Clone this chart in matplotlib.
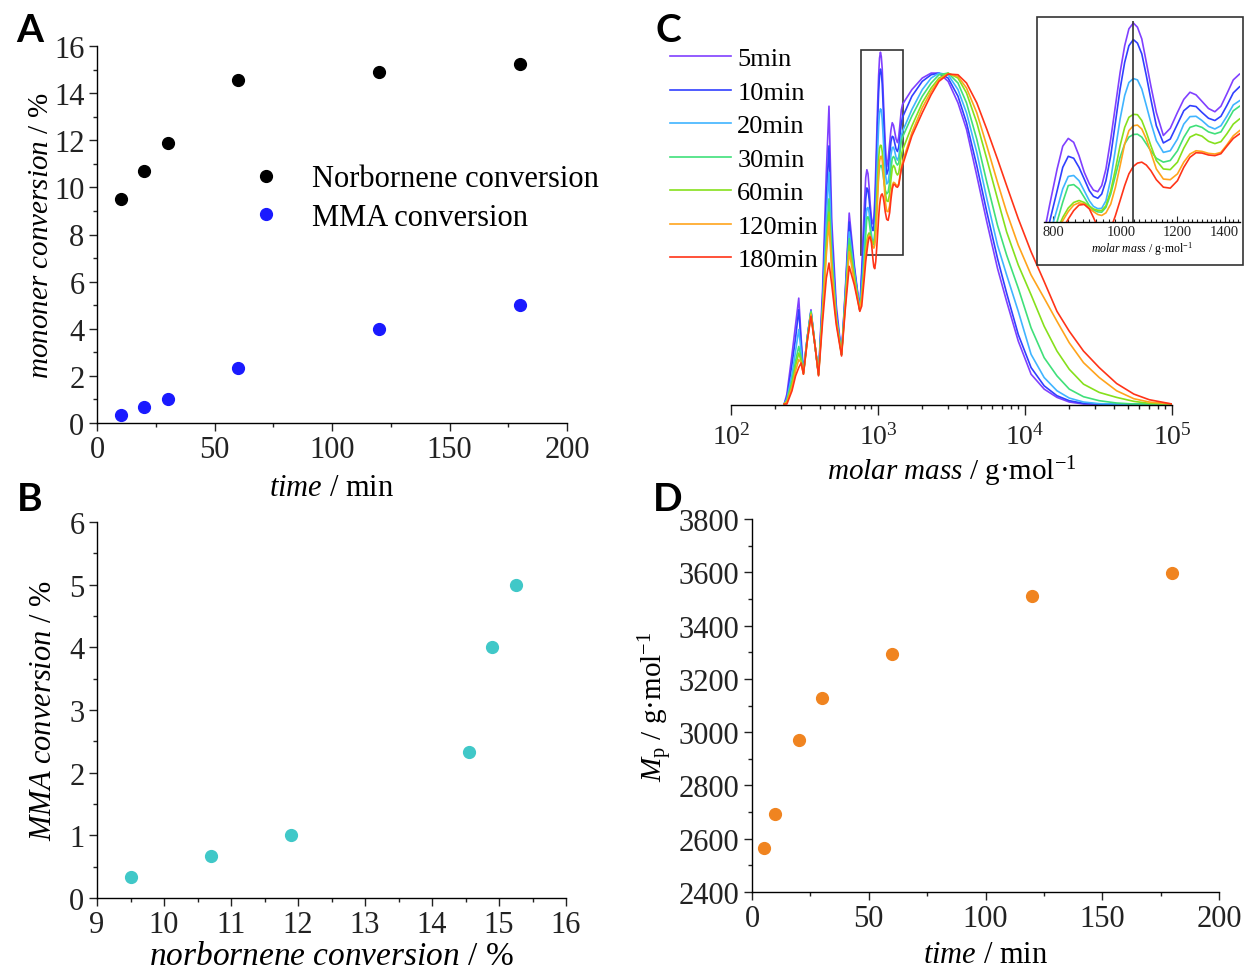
import matplotlib.pyplot as plt
from matplotlib.ticker import MultipleLocator, FixedLocator, NullFormatter, FixedFormatter
from matplotlib.patches import Rectangle

# ---- panel A / D : kinetics ----
time_a = [10, 20, 30, 60, 120, 180]
norbornene_conv = [9.5, 10.7, 11.9, 14.55, 14.9, 15.25]
mma_conv = [0.33, 0.67, 1.0, 2.33, 4.0, 5.0]

time_d = [5, 10, 20, 30, 60, 120, 180]
mp_values = [2565, 2692, 2970, 3128, 3295, 3510, 3597]

# ---- panel C : GPC traces (normalised) ----
molar_mass = [230, 240, 260, 275, 289, 300, 311, 330, 350, 372, 394, 420, 445, 464, 485, 520, 565, 600, 637, 690, 752,
              775, 790, 810, 825, 840, 855, 870, 885, 900, 912, 925, 937, 950, 965, 980, 995, 1010, 1024, 1039, 1053,
              1068, 1084, 1100, 1120, 1146, 1172, 1200, 1225, 1250, 1275, 1300, 1328, 1356, 1383, 1410, 1440,
              1470, 1700, 2000, 2300, 2600, 3000, 3500, 4000, 4700, 5500, 6500, 7500, 9000, 11000, 13500, 16500,
              20000, 25000, 32000, 42000, 55000, 70000, 100000]

gpc_5min = [0, 0.03, 0.15, 0.24, 0.32, 0.20, 0.095, 0.20, 0.285, 0.18, 0.09, 0.35, 0.70, 0.90, 0.55, 0.30, 0.15, 0.35, 0.577, 0.42, 0.285,
            0.409, 0.501, 0.614, 0.684, 0.708, 0.696, 0.655, 0.604, 0.568, 0.549, 0.544, 0.563, 0.614, 0.706, 0.809, 0.911,
            0.993, 1.045, 1.063, 1.05, 1.014, 0.942, 0.87, 0.788, 0.717, 0.739, 0.788, 0.828, 0.85, 0.842, 0.822, 0.80,
            0.79, 0.807, 0.845, 0.888,
            0.906, 0.95, 0.985, 1.0, 1.0, 0.975, 0.91, 0.83, 0.69, 0.55, 0.41, 0.31, 0.19, 0.09, 0.045, 0.02,
            0.006, 0, 0, 0, 0, 0, 0]
gpc_10min = [0, 0.02, 0.12, 0.20, 0.285, 0.18, 0.094, 0.20, 0.28, 0.18, 0.09, 0.32, 0.62, 0.78, 0.50, 0.28, 0.15, 0.34, 0.55, 0.41, 0.285,
             0.389, 0.45, 0.547, 0.619, 0.653, 0.647, 0.619, 0.583, 0.547, 0.53, 0.524, 0.537, 0.578, 0.655, 0.758, 0.86,
             0.942, 0.993, 1.012, 1.001, 0.968, 0.901, 0.829, 0.747, 0.694, 0.706, 0.752, 0.793, 0.809, 0.806, 0.788, 0.77,
             0.763, 0.776, 0.809, 0.848,
             0.867, 0.93, 0.975, 0.995, 1.0, 0.985, 0.93, 0.85, 0.72, 0.58, 0.44, 0.335, 0.21, 0.11, 0.055, 0.025,
             0.01, 0.002, 0, 0, 0, 0, 0]
gpc_20min = [0, 0.015, 0.09, 0.16, 0.225, 0.16, 0.094, 0.20, 0.28, 0.18, 0.09, 0.30, 0.56, 0.70, 0.47, 0.27, 0.15, 0.33, 0.52, 0.40, 0.285,
             0.358, 0.409, 0.491, 0.553, 0.591, 0.594, 0.578, 0.547, 0.516, 0.499, 0.492, 0.493, 0.516, 0.583, 0.675, 0.768,
             0.84, 0.88, 0.892, 0.888, 0.86, 0.809, 0.757, 0.701, 0.665, 0.67, 0.706, 0.752, 0.775, 0.776, 0.763, 0.745,
             0.737, 0.747, 0.776, 0.811,
             0.824, 0.89, 0.95, 0.985, 1.0, 0.995, 0.95, 0.88, 0.76, 0.62, 0.48, 0.39, 0.28, 0.15, 0.08, 0.04,
             0.018, 0.006, 0.001, 0, 0, 0, 0]
gpc_30min = [0, 0.01, 0.07, 0.13, 0.174, 0.14, 0.094, 0.20, 0.28, 0.18, 0.09, 0.29, 0.50, 0.62, 0.44, 0.26, 0.15, 0.32, 0.50, 0.39, 0.285,
             0.327, 0.378, 0.452, 0.512, 0.563, 0.566, 0.553, 0.527, 0.501, 0.488, 0.482, 0.481, 0.496, 0.537, 0.594, 0.65,
             0.691, 0.712, 0.72, 0.721, 0.712, 0.691, 0.67, 0.647, 0.635, 0.64, 0.67, 0.711, 0.742, 0.748, 0.742, 0.728,
             0.722, 0.728, 0.758, 0.793,
             0.807, 0.87, 0.93, 0.97, 0.995, 1.0, 0.97, 0.91, 0.80, 0.67, 0.54, 0.45, 0.35, 0.23, 0.14, 0.085,
             0.045, 0.022, 0.01, 0.003, 0, 0, 0]
gpc_60min = [0, 0.008, 0.06, 0.115, 0.154, 0.13, 0.092, 0.19, 0.275, 0.18, 0.088, 0.28, 0.47, 0.58, 0.42, 0.255, 0.15, 0.31, 0.48, 0.38, 0.283,
             0.327, 0.368, 0.424, 0.465, 0.494, 0.511, 0.517, 0.511, 0.499, 0.491, 0.487, 0.486, 0.501, 0.547, 0.614, 0.686,
             0.742, 0.773, 0.782, 0.781, 0.763, 0.727, 0.686, 0.64, 0.614, 0.612, 0.635, 0.678, 0.712, 0.721, 0.715, 0.699,
             0.692, 0.698, 0.722, 0.752,
             0.768, 0.84, 0.91, 0.955, 0.985, 1.0, 0.985, 0.94, 0.85, 0.74, 0.62, 0.52, 0.42, 0.33, 0.235, 0.16,
             0.105, 0.06, 0.035, 0.02, 0.008, 0.002, 0]
gpc_120min = [0, 0.005, 0.05, 0.10, 0.134, 0.125, 0.09, 0.19, 0.27, 0.18, 0.087, 0.27, 0.45, 0.55, 0.40, 0.25, 0.148, 0.30, 0.46, 0.37, 0.282,
              0.317, 0.358, 0.414, 0.455, 0.483, 0.503, 0.51, 0.506, 0.493, 0.483, 0.474, 0.471, 0.479, 0.506, 0.558, 0.624,
              0.691, 0.732, 0.747, 0.749, 0.737, 0.706, 0.665, 0.614, 0.583, 0.581, 0.599, 0.635, 0.66, 0.67, 0.668, 0.662,
              0.66, 0.665, 0.688, 0.716,
              0.732, 0.82, 0.895, 0.945, 0.98, 0.998, 0.99, 0.955, 0.88, 0.78, 0.67, 0.58, 0.48, 0.39, 0.32, 0.25,
              0.185, 0.125, 0.08, 0.04, 0.016, 0.006, 0]
gpc_180min = [0, 0, 0.04, 0.085, 0.11, 0.124, 0.09, 0.19, 0.265, 0.18, 0.085, 0.25, 0.38, 0.426, 0.36, 0.24, 0.145, 0.29, 0.416, 0.36, 0.28,
              0.296, 0.337, 0.389, 0.43, 0.46, 0.486, 0.503, 0.505, 0.491, 0.465, 0.435, 0.414, 0.409, 0.43, 0.471, 0.517,
              0.563, 0.599, 0.622, 0.632, 0.635, 0.626, 0.609, 0.581, 0.558, 0.555, 0.578, 0.619, 0.65, 0.664, 0.663, 0.657,
              0.655, 0.661, 0.684, 0.708,
              0.722, 0.81, 0.88, 0.935, 0.975, 0.997, 0.995, 0.97, 0.91, 0.83, 0.74, 0.66, 0.56, 0.46, 0.37, 0.28,
              0.22, 0.16, 0.11, 0.062, 0.03, 0.013, 0]

gpc_labels = ['5min', '10min', '20min', '30min', '60min', '120min', '180min']
gpc_colors = ['#8040ff', '#3040ff', '#40b4ff', '#40e07a', '#86e01c', '#ffa41c', '#ff3418']
gpc_traces = [gpc_5min, gpc_10min, gpc_20min, gpc_30min, gpc_60min, gpc_120min, gpc_180min]

plt.rcParams['font.family'] = 'Liberation Serif'
plt.rcParams['mathtext.fontset'] = 'custom'
plt.rcParams['mathtext.rm'] = 'Liberation Serif'
plt.rcParams['mathtext.it'] = 'Liberation Serif:italic'
plt.rcParams['axes.linewidth'] = 1.0

W, H = 1248, 970
fig = plt.figure(figsize=(W / 100, H / 100), dpi=100)


def px_axes(left, top, right, bottom):
    return fig.add_axes([left / W, 1 - bottom / H, (right - left) / W, (bottom - top) / H])


def style(ax):
    ax.spines['top'].set_visible(False)
    ax.spines['right'].set_visible(False)
    ax.tick_params(which='both', direction='out', labelsize=22, width=1, colors='#222222')
    ax.tick_params(which='major', length=6, pad=3)
    ax.tick_params(which='minor', length=3)


# A
ax_a = px_axes(97, 47, 567, 424)
ax_a.plot(time_a, norbornene_conv, 'o', color='black', ms=8.5, label='Norbornene conversion')
ax_a.plot(time_a, mma_conv, 'o', color='#1a1aff', ms=8.5, label='MMA conversion')
ax_a.set_xlim(0, 200)
ax_a.set_ylim(0, 16)
ax_a.xaxis.set_major_locator(MultipleLocator(50))
ax_a.xaxis.set_minor_locator(MultipleLocator(25))
ax_a.yaxis.set_major_locator(MultipleLocator(2))
ax_a.yaxis.set_minor_locator(MultipleLocator(1))
style(ax_a)
ax_a.set_xlabel(r'$\mathit{time}$ / min', fontsize=22, labelpad=6)
ax_a.set_ylabel(r'$\mathit{mononer\ conversion}$ / %', fontsize=21, labelpad=0)
ax_a.legend(loc='center left', bbox_to_anchor=(251 / W, 1 - 199 / H), bbox_transform=fig.transFigure,
            frameon=False, fontsize=22, handlelength=1.0, handletextpad=1.0, labelspacing=0.3,
            borderpad=0, borderaxespad=0)

# B
ax_b = px_axes(97, 523, 566, 899)
ax_b.plot(norbornene_conv, mma_conv, 'o', color='#40c8c8', ms=8.5)
ax_b.set_xlim(9, 16)
ax_b.set_ylim(0, 6)
ax_b.xaxis.set_major_locator(MultipleLocator(1))
ax_b.xaxis.set_minor_locator(MultipleLocator(0.5))
ax_b.yaxis.set_major_locator(MultipleLocator(1))
ax_b.yaxis.set_minor_locator(MultipleLocator(0.5))
style(ax_b)
ax_b.set_xlabel(r'$\mathit{norbornene\ conversion}$ / %', fontsize=24, labelpad=1)
ax_b.set_ylabel(r'$\mathit{MMA\ conversion}$ / %', fontsize=22, labelpad=8)

# D
ax_d = px_axes(752, 520, 1219, 893)
ax_d.plot(time_d, mp_values, 'o', color='#f08420', ms=8.5)
ax_d.set_xlim(0, 200)
ax_d.set_ylim(2400, 3800)
ax_d.xaxis.set_major_locator(MultipleLocator(50))
ax_d.xaxis.set_minor_locator(MultipleLocator(25))
ax_d.yaxis.set_major_locator(MultipleLocator(200))
ax_d.yaxis.set_minor_locator(MultipleLocator(100))
style(ax_d)
ax_d.set_xlabel(r'$\mathit{time}$ / min', fontsize=22, labelpad=5)
ax_d.set_ylabel(r'$M_{\mathrm{p}}$ / g·mol$^{\mathrm{-1}}$', fontsize=21, labelpad=3)

# C
ax_c = px_axes(731, 40, 1172, 406)
for trace, col, lab in zip(gpc_traces, gpc_colors, gpc_labels):
    ax_c.plot(molar_mass, trace, color=col, lw=1.2, label=lab)
ax_c.set_xscale('log')
ax_c.set_xlim(100, 1e5)
ax_c.set_ylim(-0.003, 1.103)
for s in ['top', 'right', 'left']:
    ax_c.spines[s].set_visible(False)
ax_c.set_yticks([])
ax_c.tick_params(which='both', direction='out', labelsize=20, width=1, colors='#222222')
ax_c.tick_params(which='major', length=7, pad=6)
ax_c.tick_params(which='minor', length=3)
ax_c.set_xlabel(r'$\mathit{molar\ mass}$ / g·mol$^{\mathrm{-1}}$', fontsize=21, labelpad=3)
ax_c.add_patch(Rectangle((770, 0.45), 1470 - 770, 1.07 - 0.45, fill=False, ec='#333333', lw=1.2))
ax_c.legend(loc='center left', bbox_to_anchor=(670 / W, 1 - 160 / H), bbox_transform=fig.transFigure,
            frameon=False, fontsize=19, handlelength=2.3, handletextpad=0.25, labelspacing=0.38,
            borderpad=0, borderaxespad=0)

# inset
fig.add_artist(Rectangle((1037 / W, 1 - 266 / H), 206 / W, 248 / H, transform=fig.transFigure,
                         fill=False, ec='#333333', lw=1.2))
ax_in = px_axes(1043.6, 21.7, 1239.6, 223.3)
for trace, col in zip(gpc_traces, gpc_colors):
    ax_in.plot(molar_mass, trace, color=col, lw=1.2)
ax_in.set_xscale('log')
ax_in.set_xlim(775, 1470)
ax_in.set_ylim(0.45, 1.07)
ax_in.axvline(1039, color='#333333', lw=1.2)
for s in ['top', 'right', 'left']:
    ax_in.spines[s].set_visible(False)
ax_in.set_yticks([])
ax_in.xaxis.set_major_locator(FixedLocator([800, 1000, 1200, 1400]))
ax_in.xaxis.set_major_formatter(FixedFormatter(['800', '1000', '1200', '1400']))
ax_in.xaxis.set_minor_locator(FixedLocator(list(range(780, 1470, 20))))
ax_in.xaxis.set_minor_formatter(NullFormatter())
ax_in.tick_params(which='both', direction='in', labelsize=10.5, width=0.8, colors='#222222')
ax_in.tick_params(which='major', length=4, pad=2)
ax_in.tick_params(which='minor', length=2)
ax_in.set_xlabel(r'$\mathit{molar\ mass}$ / g·mol$^{\mathrm{-1}}$', fontsize=8.5, labelpad=1)

# panel letters
for letter, x, y in [('A', 30, 30), ('B', 30, 500), ('C', 668, 30), ('D', 668, 500)]:
    fig.text(x / W, 1 - y / H, letter, fontfamily='Lato', fontweight='bold', fontsize=28,
             ha='center', va='center')

fig.savefig('out.png', dpi=100)
